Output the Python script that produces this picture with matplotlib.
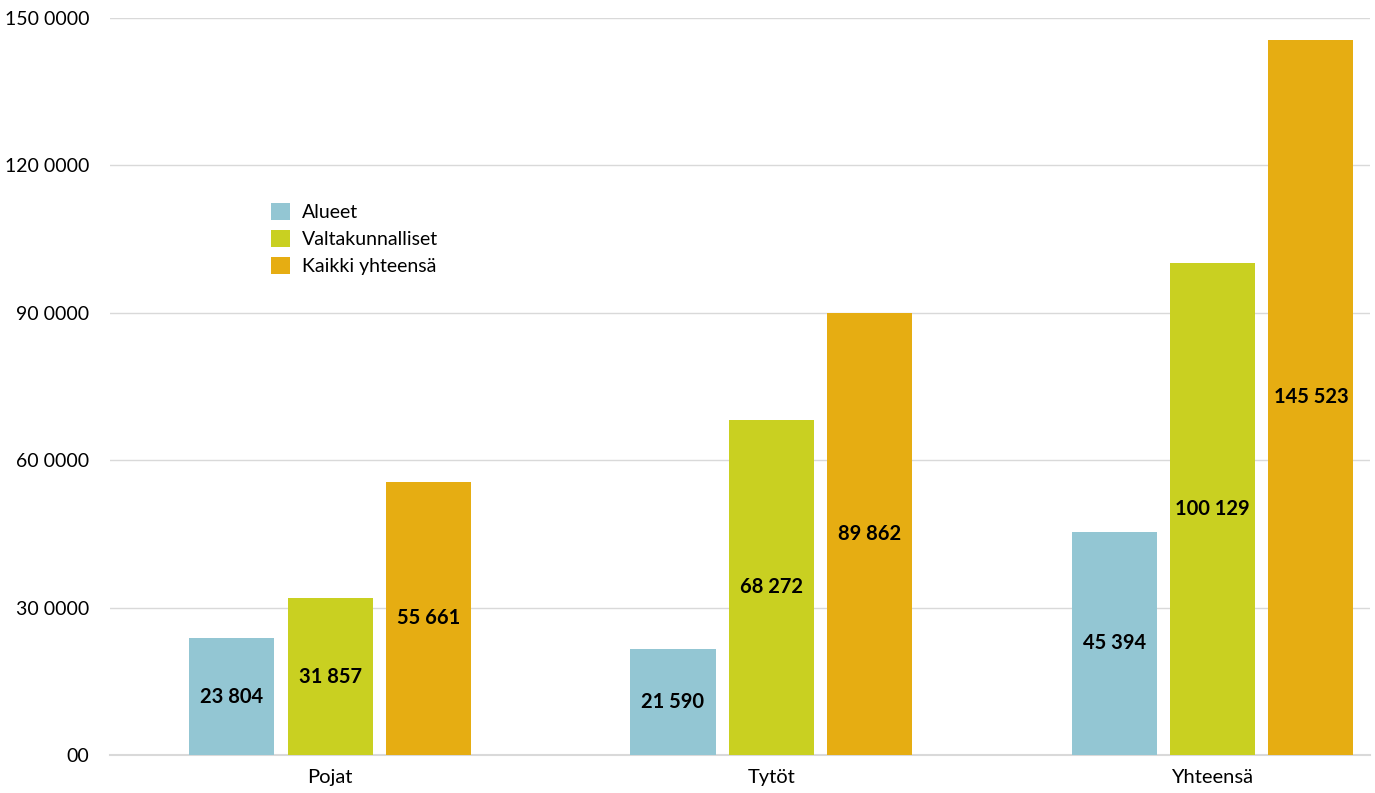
import matplotlib
matplotlib.use("Agg")
import matplotlib.pyplot as plt
import numpy as np
from matplotlib.patches import Patch

categories = ["Pojat", "Tytöt", "Yhteensä"]
series_names = ["Alueet", "Valtakunnalliset", "Kaikki yhteensä"]
alueet = [23804, 21590, 45394]
valtakunnalliset = [31857, 68272, 100129]
kaikki = [55661, 89862, 145523]
value_labels = [
    ["23 804", "21 590", "45 394"],
    ["31 857", "68 272", "100 129"],
    ["55 661", "89 862", "145 523"],
]
yticks = [0, 30000, 60000, 90000, 120000, 150000]
ytick_labels = ["00", "30 0000", "60 0000", "90 0000", "120 0000", "150 0000"]

colors = ["#93C6D3", "#C9D021", "#E6AD12"]

plt.rcParams["font.family"] = ["Lato", "DejaVu Sans"]

fig = plt.figure(figsize=(13.75, 7.93), dpi=100)
ax = fig.add_axes([110 / 1375, (793 - 755) / 793, 1260 / 1375, (755 - 18) / 793])

x = np.arange(len(categories))
width = 0.193
offset = 0.223
series = [alueet, valtakunnalliset, kaikki]
for i, (vals, clr) in enumerate(zip(series, colors)):
    pos = x + (i - 1) * offset
    ax.bar(pos, vals, width=width, color=clr, zorder=3)
    for p, v, lab in zip(pos, vals, value_labels[i]):
        ax.text(p, v / 2, lab, ha="center", va="center", fontsize=14.5,
                fontweight="bold", color="black", zorder=4)

ax.set_xlim(-0.499, 2.357)
ax.set_ylim(0, 150000)
ax.set_yticks(yticks)
ax.set_yticklabels(ytick_labels, fontsize=14)
ax.set_xticks(x)
ax.set_xticklabels(categories, fontsize=14.5)
ax.tick_params(axis="y", length=0, pad=15)
ax.tick_params(axis="x", length=0, pad=10)
ax.grid(axis="y", color="#d9d9d9", linewidth=1, zorder=0)
for s in ["top", "right", "left"]:
    ax.spines[s].set_visible(False)
ax.spines["bottom"].set_color("#d9d9d9")
ax.spines["bottom"].set_linewidth(1.5)

handles = [Patch(facecolor=c, edgecolor="none") for c in colors]
ax.legend(handles, series_names, loc="upper left",
          bbox_to_anchor=(153 / 1260, (755 - 195) / 737), frameon=False,
          fontsize=14, handlelength=1.0, handleheight=1.0, handletextpad=0.6,
          labelspacing=0.45, borderaxespad=0)

fig.savefig("out.png", dpi=100)
